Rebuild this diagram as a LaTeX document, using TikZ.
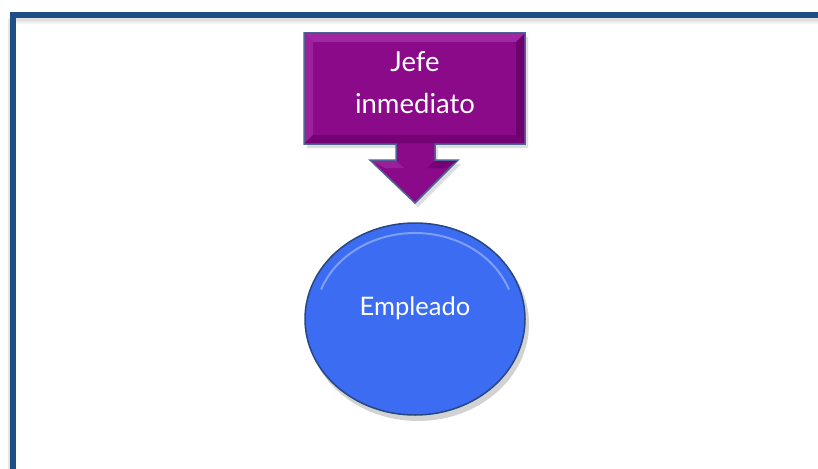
\documentclass[tikz,border=0pt]{standalone}
\usepackage{fontspec}
\setmainfont{Lato}
\usetikzlibrary{shapes.geometric}
\definecolor{framecol}{RGB}{31,78,134}
\definecolor{purp}{RGB}{138,10,138}
\definecolor{purplight}{RGB}{160,40,160}
\definecolor{purpdark}{RGB}{110,0,110}
\definecolor{purpedge}{RGB}{80,100,150}
\definecolor{bluefill}{RGB}{59,108,242}
\definecolor{blueedge}{RGB}{40,70,130}
\tikzset{
  lbl/.style={text=white, align=center, inner sep=0pt},
}
\begin{document}
\begin{tikzpicture}[x=1pt,y=-1pt]
\useasboundingbox (0,0) rectangle (818,468);
\fill[white] (0,0) rectangle (818,468);
% frame shadow
\foreach \o/\c in {6/4,5/6,4/9,3/12}{
  \draw[line width=6pt, black!\c] (13-\o*0.4,15+\o) -- (13-\o*0.4,480) (13,15+\o) -- (830,15+\o);
}
\draw[line width=6pt, framecol] (830,15) -- (13,15) -- (13,480);
% callout shadow
\fill[black!25, opacity=0.5] (307,37) -- (528,37) -- (528,148) -- (438,148) -- (438,164) -- (461,164) -- (418,207) -- (373,164) -- (399,164) -- (399,148) -- (307,148) -- cycle;
% callout
\path[fill=purp, draw=purpedge, line width=1.5pt, line join=miter]
  (304,33) coordinate (c1) -- (525,33) -- (525,144) -- (435,144) -- (435,160) -- (458,160)
  -- (415,203) coordinate (tip) -- (370,160) -- (396,160) -- (396,144) -- (304,144) -- cycle;
% bevels
\fill[purplight] (305,34) -- (524,34) -- (516,42) -- (313,42) -- cycle;
\fill[purplight!80!purp] (305,34) -- (313,42) -- (313,135) -- (305,143) -- cycle;
\fill[purpdark] (524,34) -- (524,143) -- (516,135) -- (516,42) -- cycle;
\fill[purpdark!80!purp] (305,143) -- (313,135) -- (516,135) -- (524,143) -- cycle;
\fill[purplight!70!purp] (371,161) -- (396,161) -- (404,168) -- (385,168) -- cycle;
\fill[purpdark!80!purp] (457,161) -- (435,161) -- (427,168) -- (446,168) -- cycle;
\node[lbl, font=\fontsize{27.5}{42}\selectfont] (jefe) at (415,83) {Jefe\\inmediato};
% ellipse shadow
\fill[black!35, opacity=0.5] (418,324) ellipse [x radius=111pt, y radius=97pt];
\node[ellipse, minimum width=220pt, minimum height=192pt, fill=bluefill, draw=blueedge, line width=1.5pt, inner sep=0pt] (emp) at (415,319) {};
\draw[white, opacity=0.35, line width=2pt] (415,319) ++(160:100pt and 86pt) arc[start angle=160, end angle=20, x radius=100pt, y radius=86pt];
\node[lbl, font=\fontsize{25.5}{30}\selectfont] (emptext) at (415,308) {Empleado};
\end{tikzpicture}
\end{document}
